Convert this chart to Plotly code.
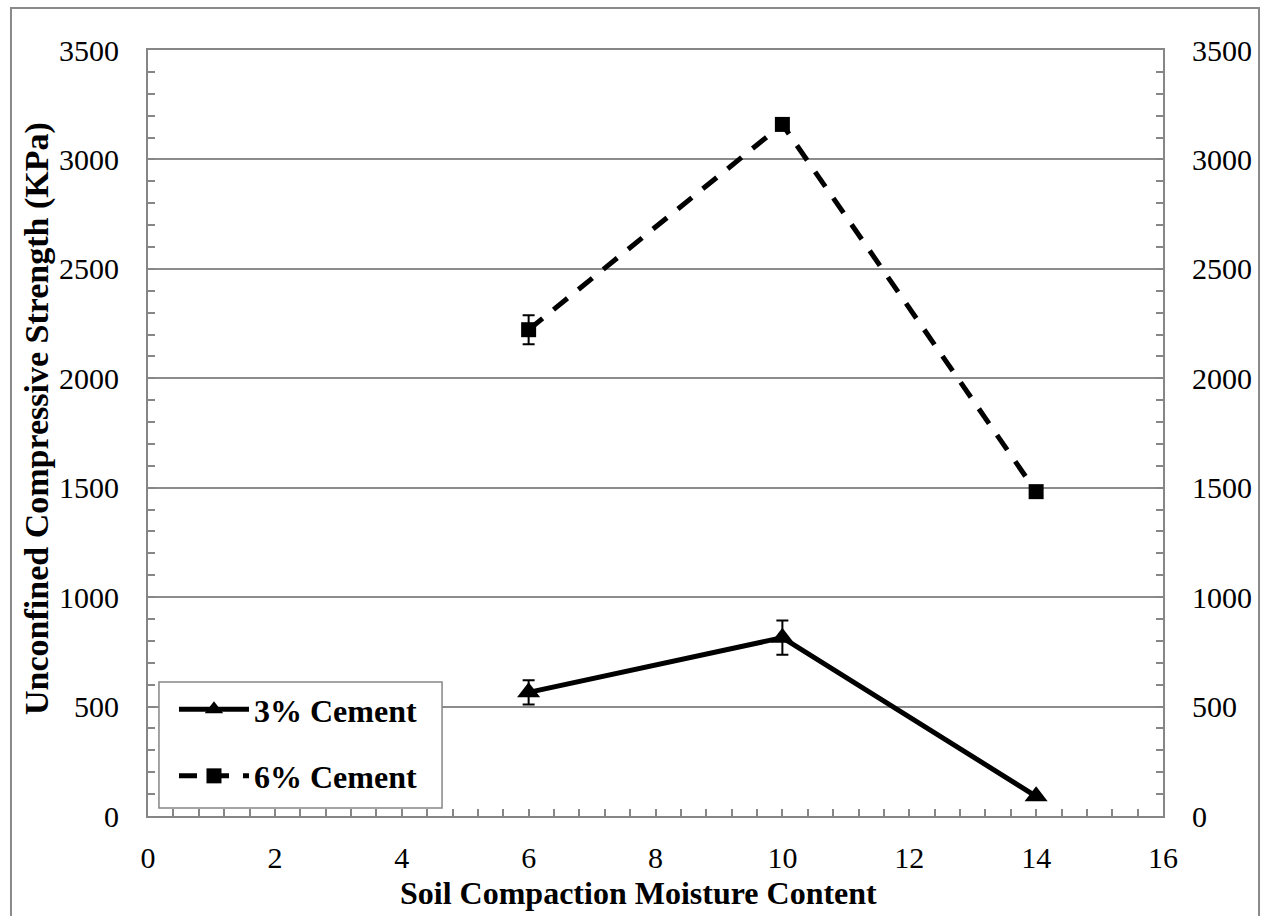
import plotly.graph_objects as go

# Moisture content (%) and unconfined compressive strength (kPa)
moisture = [6, 10, 14]
ucs_3pct = [565, 815, 90]
err_3pct = [55, 78, None]
ucs_6pct = [2222, 3160, 1482]
err_6pct = [66, None, None]

serif = "Liberation Serif"
grid_col = "#8c8c8c"
axis_col = "#868686"

fig = go.Figure()

fig.add_trace(go.Scatter(
    x=moisture, y=ucs_3pct, name="3% Cement", mode="lines+markers",
    line=dict(color="black", width=5),
    marker=dict(symbol="triangle-up", size=20, color="black"),
    error_y=dict(type="data", array=err_3pct, visible=True,
                 color="black", thickness=2, width=6),
    legendgroup="a", yaxis="y",
))
fig.add_trace(go.Scatter(
    x=moisture, y=ucs_6pct, name="6% Cement", mode="lines+markers",
    line=dict(color="black", width=5, dash="18px,14px"),
    marker=dict(symbol="square", size=15, color="black"),
    error_y=dict(type="data", array=err_6pct, visible=True,
                 color="black", thickness=2, width=6),
    legendgroup="b", yaxis="y2",
))

tick_font = dict(family=serif, size=30, color="black")
title_font = dict(family=serif, size=32, color="black", weight="bold")

yrange = [0, 3500]
common_y = dict(
    range=yrange, dtick=500, tick0=0, showline=True, linecolor=axis_col,
    linewidth=2, ticks="inside", ticklen=7, tickcolor=axis_col, tickwidth=1.5,
    minor=dict(dtick=100, ticks="inside", ticklen=7, tickcolor=axis_col, tickwidth=1.5),
    tickfont=tick_font, ticklabelstandoff=21, zeroline=False, fixedrange=True,
)

fig.update_layout(
    width=1267, height=916,
    margin=dict(l=148, r=104, t=50, b=100),
    paper_bgcolor="white", plot_bgcolor="white",
    font=dict(family=serif, color="black"),
    xaxis=dict(
        range=[0, 16], dtick=2, tick0=0, showline=True, mirror=True,
        linecolor=axis_col, linewidth=2, showgrid=False, zeroline=False,
        ticks="inside", ticklen=7, tickcolor=axis_col, tickwidth=1.5,
        minor=dict(dtick=0.4, ticks="inside", ticklen=7, tickcolor=axis_col, tickwidth=1.5),
        tickfont=tick_font, ticklabelstandoff=14,
    ),
    yaxis=dict(**common_y, side="left", showgrid=True, gridcolor=grid_col, gridwidth=1.5),
    yaxis2=dict(**common_y, side="right", overlaying="y", showgrid=False),
    legend=dict(
        x=0.0256, y=0.175, xanchor="left", yanchor="top",
        bgcolor="rgba(0,0,0,0)", borderwidth=0,
        font=dict(family=serif, size=32, color="black", weight="bold"),
        itemwidth=70, tracegroupgap=22,
    ),
    annotations=[
        dict(text="Soil Compaction Moisture Content", xref="paper", yref="paper",
             x=0.4828, y=-0.1005, xanchor="center", yanchor="middle",
             showarrow=False, font=title_font),
        dict(text="Unconfined Compressive Strength (KPa)", xref="paper", yref="paper",
             x=-0.1094, y=0.5196, xanchor="center", yanchor="middle", textangle=-90,
             showarrow=False, font=dict(title_font, size=34)),
    ],
    shapes=[
        # chart border
        dict(type="rect", xref="paper", yref="paper",
             x0=-0.135, x1=1.0946, y0=-0.14, y1=1.0548,
             line=dict(color="#8a8a8a", width=2), fillcolor="rgba(0,0,0,0)",
             layer="below"),
        # legend frame
        dict(type="rect", xref="paper", yref="paper",
             x0=0.0108, x1=0.2897, y0=0.0104, y1=0.1749,
             line=dict(color=axis_col, width=1.5), fillcolor="white",
             layer="above"),
    ],
)

fig.write_html("out.html")
